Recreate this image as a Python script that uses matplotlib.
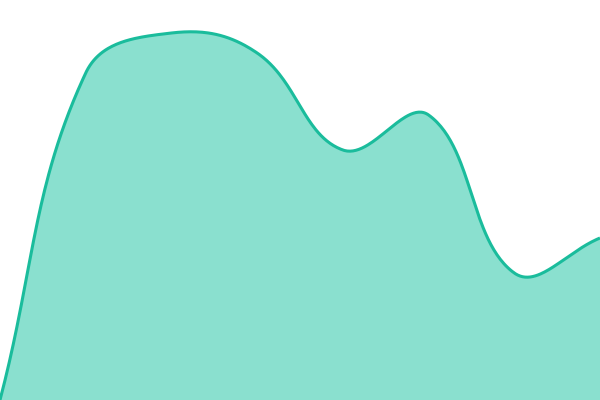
import numpy as np
import matplotlib
matplotlib.use("Agg")
import matplotlib.pyplot as plt

# eight evenly spaced samples (0 = bottom edge)
xs = np.linspace(0, 600, 8)
values = [0, 327, 367, 347, 250, 285, 127, 162]

LINE = "#1abc9c"
FILL = "#8ae0cf"
TENSION = 0.4


def spline(x, y, tension=TENSION, n=60, xlim=(0, 600), ylim=(0, 400)):
    """Chart.js-style spline: control points scaled by neighbour distances."""
    p = np.column_stack([x, y]).astype(float)
    k = len(p)
    before, after = [], []
    for i in range(k):
        prev = p[i - 1] if i > 0 else p[i]
        nxt = p[i + 1] if i < k - 1 else p[i]
        d01 = np.linalg.norm(p[i] - prev)
        d12 = np.linalg.norm(nxt - p[i])
        s01 = d01 / (d01 + d12)
        s12 = d12 / (d01 + d12)
        b = p[i] - tension * s01 * (nxt - prev)
        a = p[i] + tension * s12 * (nxt - prev)
        before.append(np.clip(b, [xlim[0], ylim[0]], [xlim[1], ylim[1]]))
        after.append(np.clip(a, [xlim[0], ylim[0]], [xlim[1], ylim[1]]))
    t = np.linspace(0, 1, n, endpoint=False)[:, None]
    out = []
    for i in range(k - 1):
        p1, c1, c2, p2 = p[i], after[i], before[i + 1], p[i + 1]
        out.append((1 - t)**3 * p1 + 3 * (1 - t)**2 * t * c1
                   + 3 * (1 - t) * t**2 * c2 + t**3 * p2)
    out.append(p[-1][None, :])
    c = np.vstack(out)
    return c[:, 0], c[:, 1]


sx, sy = spline(xs, values)

fig = plt.figure(figsize=(6, 4), dpi=100)
ax = fig.add_axes([0, 0, 1, 1])
ax.fill_between(sx, sy, 0, color=FILL, lw=0)
ax.plot(sx, sy, color=LINE, lw=2.2, solid_capstyle="butt")
ax.set_xlim(0, 600); ax.set_ylim(0, 400)
ax.axis("off")
fig.savefig("out.png", dpi=100)
